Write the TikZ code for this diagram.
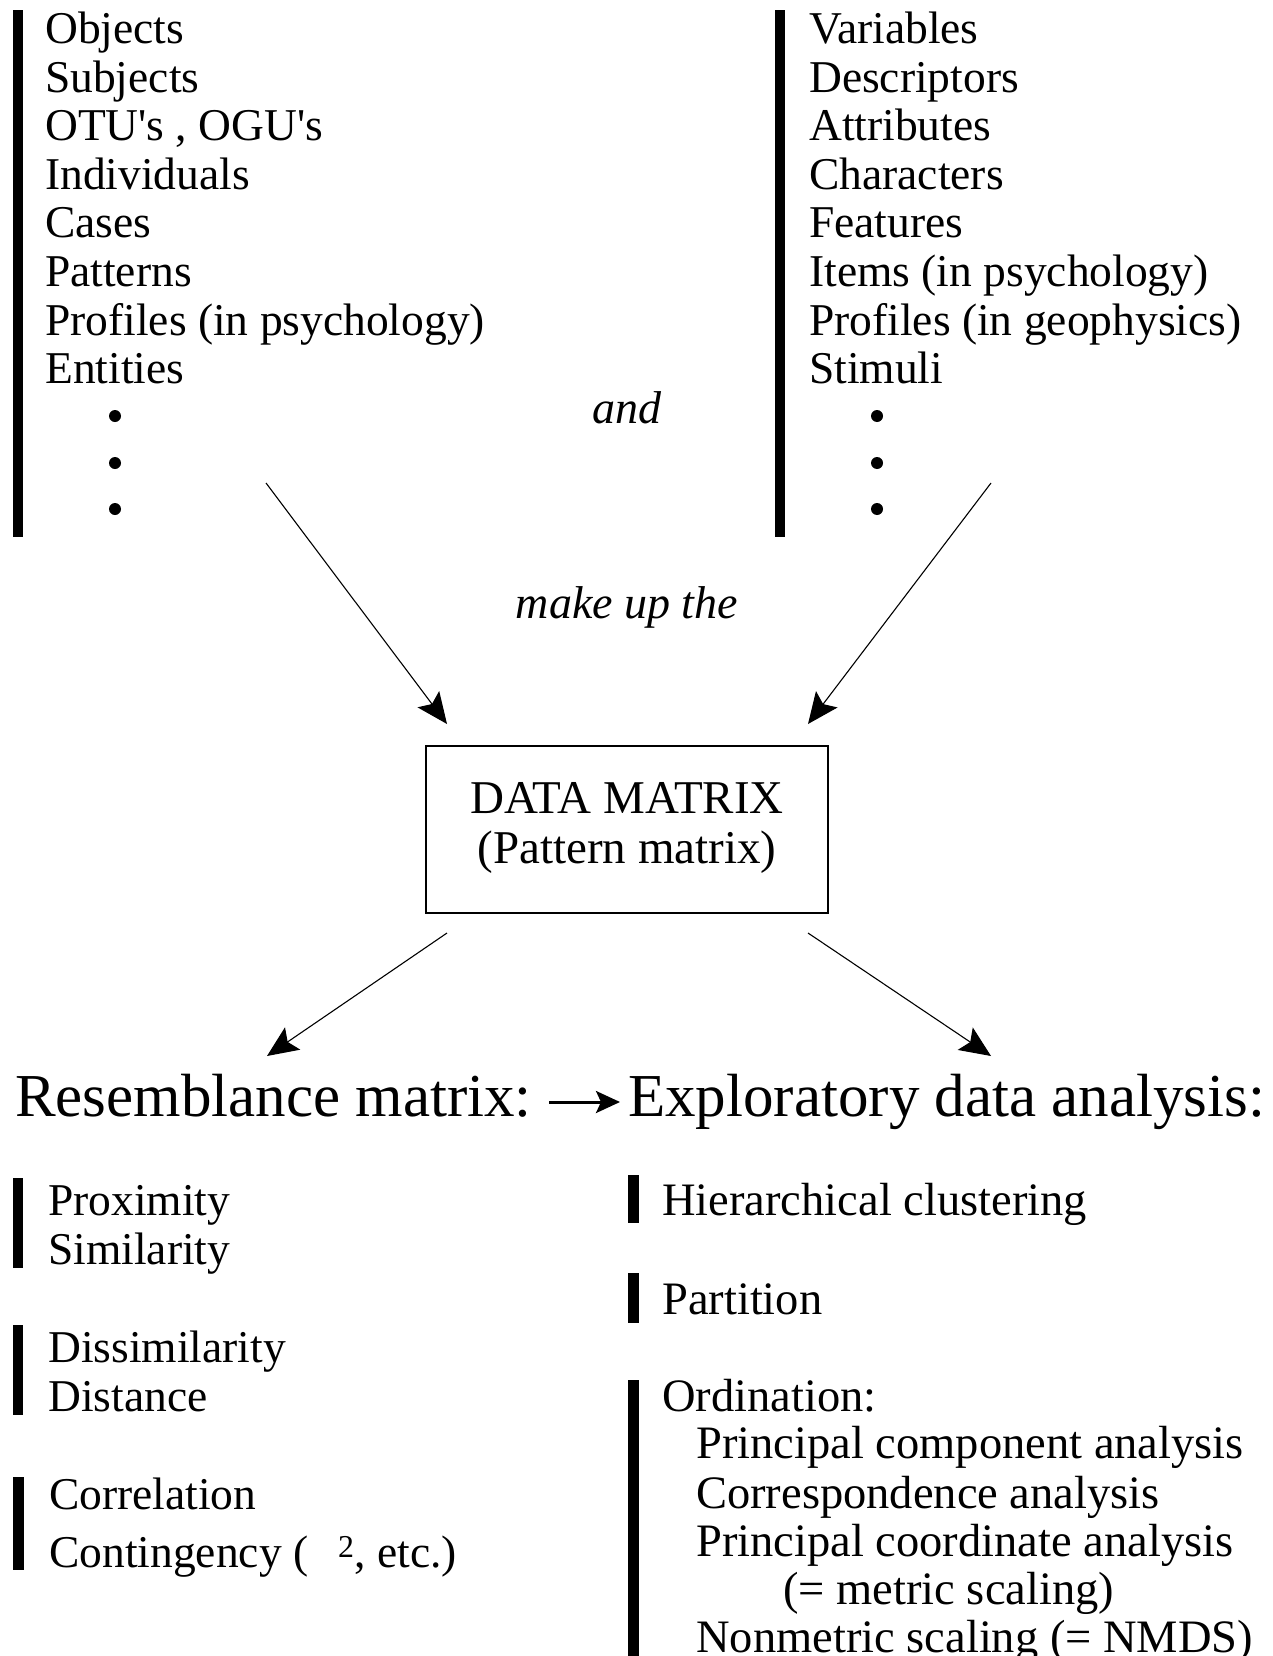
\documentclass[tikz,border=0pt]{standalone}
\usepackage{fontspec}
\setmainfont{Liberation Serif}
\usetikzlibrary{arrows.meta}
\begin{document}
\begin{tikzpicture}[x=1pt,y=-1pt,
  item/.style={anchor=base west, inner sep=0pt, font=\fontsize{45.5}{48}\selectfont},
  itemb/.style={anchor=base west, inner sep=0pt, font=\fontsize{45.5}{48}\selectfont},
  itemc/.style={anchor=base west, inner sep=0pt, font=\fontsize{46.5}{48}\selectfont},
  note/.style={anchor=base, inner sep=0pt, font=\fontsize{46}{48}\selectfont\itshape},
  head/.style={anchor=base west, inner sep=0pt, font=\fontsize{61}{64}\selectfont},
  boxtext/.style={anchor=base, inner sep=0pt, font=\fontsize{47}{50}\selectfont},
  bar/.style={fill=black},
  flow/.style={line width=1.1pt, -{Stealth[length=31pt,width=27pt,inset=6pt]}},
  dot/.style={fill=black}]
% page
\path[fill=white, use as bounding box] (0,0) rectangle (1273,1656);

% ---- what the rows are ----
\fill[bar] (13,10) rectangle (23,537);
\foreach \t [count=\i from 0] in {Objects, Subjects, {OTU\textquotesingle s , OGU\textquotesingle s},
    Individuals, Cases, Patterns, {Profiles (in psychology)}, Entities}
  \node[item] (row\i) at (45,{43.5+48.6*\i}) {\t};
\foreach \y in {416,463,509}
  \fill[dot] (115,\y) circle[radius=6pt];

% ---- what the columns are ----
\fill[bar] (775,10) rectangle (785,537);
\foreach \t [count=\i from 0] in {Variables, Descriptors, Attributes, Characters, Features,
    {Items (in psychology)}, {Profiles (in geophysics)}, Stimuli}
  \node[item] (col\i) at (809,{43.5+48.6*\i}) {\t};
\foreach \y in {416,463,509}
  \fill[dot] (877,\y) circle[radius=6pt];

\node[note] (and) at (627,423) {and};
\node[note] (makeup) at (627,618) {make up the};

% ---- data matrix ----
\node[draw, line width=1.3pt, minimum width=402pt, minimum height=167pt, inner sep=0pt]
  (dm) at (627,829.5) {};
\node[boxtext] (dm1) at (627,813) {DATA MATRIX};
\node[boxtext] (dm2) at (627,863) {(Pattern matrix)};

\coordinate (inL)  at (266,483);
\coordinate (inLe) at (447,724);
\coordinate (inR)  at (991,483);
\coordinate (inRe) at (808,724);
\coordinate (outL)  at (447,933);
\coordinate (outLe) at (267,1056);
\coordinate (outR)  at (808,933);
\coordinate (outRe) at (991,1056);
\draw[flow] (inL) -- (inLe);
\draw[flow] (inR) -- (inRe);
\draw[flow] (outL) -- (outLe);
\draw[flow] (outR) -- (outRe);

% ---- headings ----
\node[head] (res) at (15,1116) {Resemblance matrix:};
\node[head] (eda) at (628,1116) {Exploratory data analysis:};
\draw[line width=3pt, -{Stealth[length=24pt,width=22pt,inset=5pt]}]
  ([xshift=17pt,yshift=14pt]res.base east) -- ([xshift=-8pt,yshift=14pt]eda.base west);

% ---- resemblance measures ----
\fill[bar] (13,1178) rectangle (23,1268);
\node[itemb] (prox) at (48,1215) {Proximity};
\node[itemb] (sim)  at (48,1264) {Similarity};
\fill[bar] (13,1325) rectangle (23,1415);
\node[itemb] (dis)  at (48,1362) {Dissimilarity};
\node[itemb] (dist) at (48,1411) {Distance};
\fill[bar] (13,1477) rectangle (24,1570);
\node[itemb] (corr) at (49,1509) {Correlation};
\node[itemb] (cont) at (49,1567) {Contingency (\hspace{30pt}\textsuperscript{2}, etc.)};

% ---- analyses ----
\fill[bar] (628,1175) rectangle (639,1223);
\node[itemc] (hc) at (662,1215) {Hierarchical clustering};
\fill[bar] (628,1273) rectangle (639,1323);
\node[itemc] (part) at (662,1314) {Partition};
\fill[bar] (628,1380) rectangle (639,1660);
\node[itemc] (ord) at (662,1411) {Ordination:};
\node[itemc] (pca) at (696,1458) {Principal component analysis};
\node[itemc] (ca)  at (696,1508) {Correspondence analysis};
\node[itemc] (pcoa) at (696,1556) {Principal coordinate analysis};
\node[itemc] (ms)  at (783,1604) {(= metric scaling)};
\node[itemc] (nmds) at (696,1652) {Nonmetric scaling (= NMDS)};
\end{tikzpicture}
\end{document}
